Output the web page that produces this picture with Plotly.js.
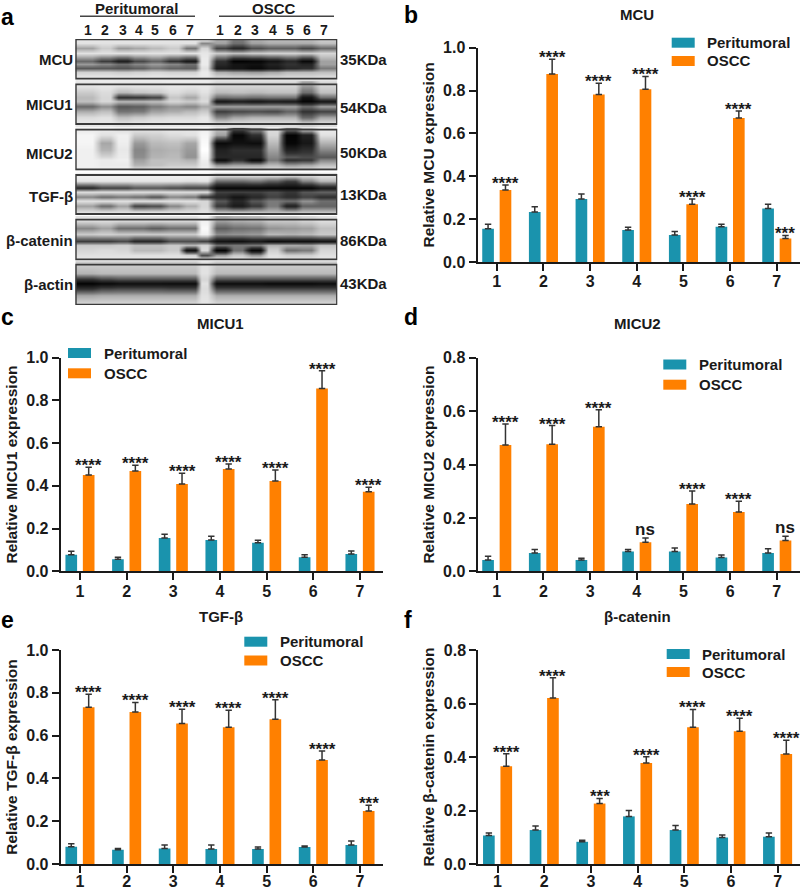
<!DOCTYPE html>
<html><head><meta charset="utf-8">
<script src="https://cdn.plot.ly/plotly-3.0.1.min.js"></script>
<style>html,body{margin:0;padding:0;background:#fff}#chart{width:800px;height:890px}</style>
</head><body><div id="chart"></div>
<script>
// ---------- data ----------
const groups = ['Peritumoral', 'OSCC'];
const samples = [1, 2, 3, 4, 5, 6, 7];

const mcuPeri = [.155, .233, .294, .149, .126, .165, .25];
const mcuPeriErr = [.021, .025, .023, .013, .016, .011, .02];
const mcuOscc = [.336, .877, .782, .806, .27, .672, .11];
const mcuOsccErr = [.023, .069, .052, .06, .024, .033, .014];
const mcuSig = ['****', '****', '****', '****', '****', '****', '***'];

const micu1Peri = [.078, .056, .156, .147, .134, .066, .081];
const micu1PeriErr = [.016, .01, .017, .017, .011, .012, .014];
const micu1Oscc = [.451, .47, .409, .479, .423, .856, .373];
const micu1OsccErr = [.036, .026, .05, .023, .051, .083, .02];
const micu1Sig = ['****', '****', '****', '****', '****', '****', '****'];

const micu2Peri = [.042, .069, .042, .074, .074, .052, .069];
const micu2PeriErr = [.014, .013, .007, .008, .013, .009, .015];
const micu2Oscc = [.473, .476, .541, .109, .252, .222, .115];
const micu2OsccErr = [.079, .07, .064, .016, .049, .04, .016];
const micu2Sig = ['****', '****', '****', 'ns', '****', '****', 'ns'];

const tgfPeri = [.081, .067, .072, .07, .07, .079, .089];
const tgfPeriErr = [.014, .006, .017, .019, .009, .005, .018];
const tgfOscc = [.732, .71, .657, .639, .676, .486, .248];
const tgfOsccErr = [.061, .045, .066, .079, .092, .042, .026];
const tgfSig = ['****', '****', '****', '****', '****', '****', '***'];

const cateninPeri = [.107, .127, .083, .178, .127, .099, .102];
const cateninPeriErr = [.009, .015, .006, .022, .017, .009, .014];
const cateninOscc = [.365, .621, .226, .378, .511, .496, .411];
const cateninOsccErr = [.047, .075, .019, .023, .067, .049, .052];
const cateninSig = ['****', '****', '***', '****', '****', '****', '****'];

// Western blot grey levels (0 black .. 255 white)
// columns: lanes 1-7, marker, lanes 1-7
const mcuBlot = [
 [228,228,228,228,228,228,228,225,180,140,180,190,190,190,205],
 [225,225,225,225,225,225,225,150,170,130,170,180,180,180,195],
 [170,205,165,175,190,205,135,215,90,60,100,115,115,95,125],
 [225,225,225,225,225,225,225,230,205,195,205,210,210,205,215],
 [125,85,50,95,120,75,40,235,70,5,10,30,60,15,170],
 [165,150,130,150,165,150,130,235,60,30,25,50,75,55,170],
 [110,110,105,115,135,120,115,225,40,30,15,35,60,70,140],
 [210,210,205,210,215,210,210,235,180,170,165,175,190,190,195],
 [235,235,235,235,235,235,235,235,225,225,225,225,225,225,230]];
const micu1Blot = [
 [230,232,230,230,230,232,232,232,215,215,215,215,215,170,215],
 [205,220,190,200,205,220,210,225,190,195,190,195,195,130,195],
 [190,215,70,75,90,200,175,215,130,135,130,135,135,30,130],
 [195,215,190,190,195,215,205,220,35,45,35,45,40,10,35],
 [125,155,110,115,140,160,150,175,170,170,170,170,170,130,170],
 [180,195,135,140,170,180,190,205,85,95,100,95,120,75,90],
 [220,225,195,205,215,220,220,230,150,175,185,185,185,125,175],
 [232,232,225,230,232,232,232,232,220,222,222,222,222,210,222]];
const micu2Blot = [
 [235,235,225,225,225,230,230,240,190,80,140,220,120,190,235],
 [245,225,240,205,210,220,225,245,170,10,70,215,5,50,225],
 [245,175,238,165,190,195,175,250,15,25,20,190,10,35,185],
 [240,185,232,150,180,185,165,255,50,70,70,170,50,70,150],
 [240,215,235,155,185,190,160,245,60,60,60,150,110,100,110],
 [240,235,240,170,195,195,185,240,20,70,15,140,70,80,150],
 [240,235,235,185,195,205,205,235,160,170,170,190,165,175,195],
 [240,240,240,220,225,225,225,240,215,215,215,220,215,215,225]];
const tgfBlot = [
 [240,240,240,240,240,240,240,240,215,215,215,215,210,215,225],
 [230,230,230,230,230,230,225,230,130,130,140,120,90,150,190],
 [60,90,90,110,110,100,90,90,10,10,10,10,10,10,40],
 [222,222,222,222,222,222,222,222,90,90,90,100,80,110,120],
 [150,130,140,130,110,150,140,80,60,30,60,90,70,90,70],
 [225,225,225,225,225,225,225,215,110,60,110,140,130,160,130],
 [170,130,170,90,100,150,180,215,80,40,80,140,50,120,120],
 [222,222,222,222,222,222,222,225,190,190,190,190,190,195,195],
 [232,232,232,232,232,232,232,232,225,225,225,225,225,225,225]];
const cateninBlot = [
 [225,225,225,225,225,225,225,240,175,185,190,205,205,215,225],
 [150,170,130,130,115,130,130,250,115,130,135,160,165,170,195],
 [205,210,205,205,205,205,205,240,155,160,165,190,185,190,205],
 [85,85,95,60,60,100,100,90,30,25,40,20,25,25,30],
 [205,205,210,195,195,205,190,215,130,140,140,185,180,175,200],
 [215,220,215,190,190,205,25,220,5,130,10,210,130,140,215],
 [225,225,225,225,225,225,215,100,170,205,165,225,210,210,225],
 [232,232,232,232,232,232,232,232,225,225,225,225,225,225,230]];
const actinBlot = [
 [205,205,205,205,205,205,205,225,205,205,205,205,205,205,205],
 [185,190,190,190,190,190,190,225,190,190,190,190,190,190,190],
 [70,90,100,100,100,100,100,215,100,100,100,100,100,100,100],
 [5,15,22,22,22,20,20,225,20,20,20,15,15,15,20],
 [70,90,95,95,95,90,90,220,90,90,90,90,90,90,90],
 [175,180,180,180,180,180,180,225,180,180,180,180,180,180,180],
 [220,220,220,220,220,220,220,230,220,220,220,220,220,220,220]];

const blotNames = ['MCU', 'MICU1', 'MICU2', 'TGF-β', 'β-catenin', 'β-actin'];
const blotSizes = ['35KDa', '54KDa', '50KDa', '13KDa', '86KDa', '43KDa'];

// ---------- layout helpers ----------
const W = 800, H = 890;
const px = x => x / W, py = y => 1 - y / H;
const TEAL = '#1a93ad', ORANGE = '#ff8000', INK = '#1a1a1a', FONT = '"Liberation Sans", Arial, sans-serif';
const bold = (size, color) => ({family: FONT, size, color: color || INK, weight: 700});

const laneCentres = [87.7, 105.3, 122.7, 139, 155.3, 173.3, 190.3, 204, 220.3, 237.7, 255.3, 273, 290.3, 306.7, 324.3];
const blotX = [76, ...laneCentres.flatMap((c, i) => {
  const half = i === 7 ? 3 : 4.5;
  return [c - half, c + half];
}), 337];
const laneRow = r => {
  const d = r.flatMap(v => [v, v]);
  return [d[0], ...d, d[d.length - 1]];
};

const blotPlace = [
 {top: 39.3, bottom: 78.7, rows: [39.8,42.7,47.7,53,61,64,67.5,72,78.2], label: 60, size: 60, z: mcuBlot},
 {top: 84.3, bottom: 124, rows: [84.8,92,97.5,101,106.5,111,117,123.5], label: 105, size: 107, z: micu1Blot},
 {top: 129.7, bottom: 169.3, rows: [130.2,135,143,150,156.5,159.5,165,168.8], label: 153, size: 152, z: micu2Blot},
 {top: 175, bottom: 214, rows: [175.5,181,187.5,192,197,201,206,212,213.5], label: 196, size: 195, z: tgfBlot},
 {top: 219.7, bottom: 259.3, rows: [220.2,228.5,234,241,245.5,250,255.5,258.8], label: 241, size: 240, z: cateninBlot},
 {top: 264.7, bottom: 304.7, rows: [265.2,273,279,283,288,295,304.2], label: 284, size: 283, z: actinBlot}
];

const panels = [
 {id: '', tag: 'b', title: 'MCU', ytitle: 'Relative MCU expression', peri: mcuPeri, periErr: mcuPeriErr, oscc: mcuOscc, osccErr: mcuOsccErr, sig: mcuSig,
  ymax: 1, x0: 477.5, x1: 799.5, ytop: 47.7, y0: 262, titleX: 637, titleY: 14.7, tagX: 404, tagY: 15, tickGap: -3,
  lx: 671.7, ltx: 707.3, ly1: 42.7, ly2: 61},
 {id: '2', tag: 'c', title: 'MICU1', ytitle: 'Relative MICU1 expression', peri: micu1Peri, periErr: micu1PeriErr, oscc: micu1Oscc, osccErr: micu1OsccErr, sig: micu1Sig,
  ymax: 1, x0: 60.7, x1: 382.7, ytop: 357.7, y0: 571.3, titleX: 220, titleY: 324, tagX: 1, tagY: 317, tickGap: -3,
  lx: 68, ltx: 104, ly1: 353, ly2: 373.3},
 {id: '3', tag: 'd', title: 'MICU2', ytitle: 'Relative MICU2 expression', peri: micu2Peri, periErr: micu2PeriErr, oscc: micu2Oscc, osccErr: micu2OsccErr, sig: micu2Sig,
  ymax: .8, x0: 477.5, x1: 799.5, ytop: 357.7, y0: 571.3, titleX: 637.7, titleY: 324, tagX: 404, tagY: 317, tickGap: -3,
  lx: 663.3, ltx: 699, ly1: 364.5, ly2: 384.7},
 {id: '4', tag: 'e', title: 'TGF-β', ytitle: 'Relative TGF-β expression', peri: tgfPeri, periErr: tgfPeriErr, oscc: tgfOscc, osccErr: tgfOsccErr, sig: tgfSig,
  ymax: 1, x0: 60.7, x1: 382.7, ytop: 650, y0: 864, titleX: 221, titleY: 616.7, tagX: 1, tagY: 620, tickGap: -5,
  lx: 244.3, ltx: 280, ly1: 641.7, ly2: 660.5},
 {id: '5', tag: 'f', title: 'β-catenin', ytitle: 'Relative β-catenin expression', peri: cateninPeri, periErr: cateninPeriErr, oscc: cateninOscc, osccErr: cateninOsccErr, sig: cateninSig,
  ymax: .8, x0: 478.3, x1: 800, ytop: 650, y0: 864, titleX: 637.7, titleY: 616.7, tagX: 404, tagY: 620, tickGap: -5,
  lx: 666.7, ltx: 701.7, ly1: 654, ly2: 672}
];

const data = [], annotations = [], shapes = [];
const layout = {
  width: W, height: H, margin: {l: 0, r: 0, t: 0, b: 0}, showlegend: false,
  paper_bgcolor: '#fff', plot_bgcolor: 'rgba(0,0,0,0)',
  barmode: 'group', bargap: .254, bargroupgap: .33, font: {family: FONT, color: INK},
  annotations, shapes
};
const note = (text, x, y, font, anchor, extra) => annotations.push(Object.assign({
  text, x: px(x), y: py(y), xref: 'paper', yref: 'paper', showarrow: false, font,
  xanchor: anchor || 'center', yanchor: 'middle', borderpad: 0, borderwidth: 0}, extra || {}));

panels.forEach(p => {
  const xk = 'x' + p.id, yk = 'y' + p.id;
  const err = a => ({type: 'data', symmetric: false, array: a, arrayminus: a.map(() => 0), color: '#333', thickness: 1.5, width: 3.2});
  data.push({type: 'bar', name: groups[0], x: samples, y: p.peri, error_y: err(p.periErr), marker: {color: TEAL}, xaxis: xk, yaxis: yk});
  data.push({type: 'bar', name: groups[1], x: samples, y: p.oscc, error_y: err(p.osccErr), marker: {color: ORANGE}, xaxis: xk, yaxis: yk});
  layout['xaxis' + p.id] = {
    domain: [px(p.x0), px(p.x1)], range: [.587, .587 + (p.x1 - p.x0) / 46.67], anchor: yk, tickvals: samples,
    showgrid: false, zeroline: false, showline: true, linecolor: INK, linewidth: 2,
    ticks: 'outside', ticklen: 7, tickwidth: 2, tickcolor: INK, tickfont: bold(16), ticklabelstandoff: p.tickGap
  };
  layout['yaxis' + p.id] = {
    domain: [py(p.y0), py(p.ytop)], range: [0, p.ymax], anchor: xk, dtick: .2, tickformat: '.1f',
    showgrid: false, zeroline: false, showline: true, linecolor: INK, linewidth: 2,
    ticks: 'outside', ticklen: 7, tickwidth: 2, tickcolor: INK, tickfont: bold(16),
    title: {text: p.ytitle, font: bold(15.5), standoff: 5}
  };
  samples.forEach((s, i) => {
    const ns = p.sig[i] === 'ns';
    annotations.push({text: p.sig[i], x: s + .186, y: p.oscc[i] + p.osccErr[i], xref: xk, yref: yk, showarrow: false,
      font: bold(17), xanchor: 'center', yanchor: 'bottom', yshift: ns ? -2 : -9, borderpad: 0});
  });
  note(p.title, p.titleX, p.titleY, bold(15));
  note(p.tag, p.tagX, p.tagY, bold(23, '#000'), 'left');
  [[p.ly1, TEAL, groups[0]], [p.ly2, ORANGE, groups[1]]].forEach(([y, col, name]) => {
    shapes.push({type: 'rect', xref: 'paper', yref: 'paper', x0: px(p.lx), x1: px(p.lx + 23), y0: py(y - 5), y1: py(y + 5), fillcolor: col, line: {width: 0}});
    note(name, p.ltx, y, bold(15), 'left');
  });
});

// ---------- panel a: blots ----------
layout.xaxis6 = {domain: [px(75.3), px(337.3)], range: [75.3, 337.3], visible: false, anchor: 'y6', fixedrange: true};
layout.yaxis6 = {domain: [py(305), py(39)], range: [305, 39], visible: false, anchor: 'x6', fixedrange: true};
blotPlace.forEach((b, i) => {
  data.push({type: 'heatmap', x: blotX, y: b.rows, z: b.z.map(laneRow), xaxis: 'x6', yaxis: 'y6', zmin: 0, zmax: 255,
    colorscale: [[0, '#000'], [.3, '#333333'], [.55, '#7a7a7a'], [.75, '#bcbcbc'], [.88, '#e1e1e1'], [1, '#fff']],
    showscale: false, zsmooth: 'best', hoverinfo: 'skip'});
  shapes.push({type: 'rect', xref: 'x6', yref: 'y6', x0: 75.8, x1: 337, y0: b.top, y1: b.bottom, line: {color: '#3a3a3a', width: 1.8}, layer: 'above'});
  note(blotNames[i], 73, b.label, bold(15), 'right');
  note(blotSizes[i], 340, b.size, bold(15), 'left');
});
note('a', 1, 17, bold(23, '#000'), 'left');
note('Peritumoral', 136.5, 8, bold(15));
note('OSCC', 274, 8, bold(15));
[[80, 195], [219, 334]].forEach(([a, b]) => shapes.push({type: 'line', xref: 'paper', yref: 'paper', x0: px(a), x1: px(b), y0: py(16.3), y1: py(16.3), line: {color: '#444', width: 1.5}}));
laneCentres.slice(0, 7).forEach((x, i) => note(String(samples[i]), x, 30, bold(14)));
laneCentres.slice(8).forEach((x, i) => note(String(samples[i]), x, 30, bold(14)));

Plotly.newPlot('chart', data, layout, {staticPlot: true, displayModeBar: false});
</script></body></html>
